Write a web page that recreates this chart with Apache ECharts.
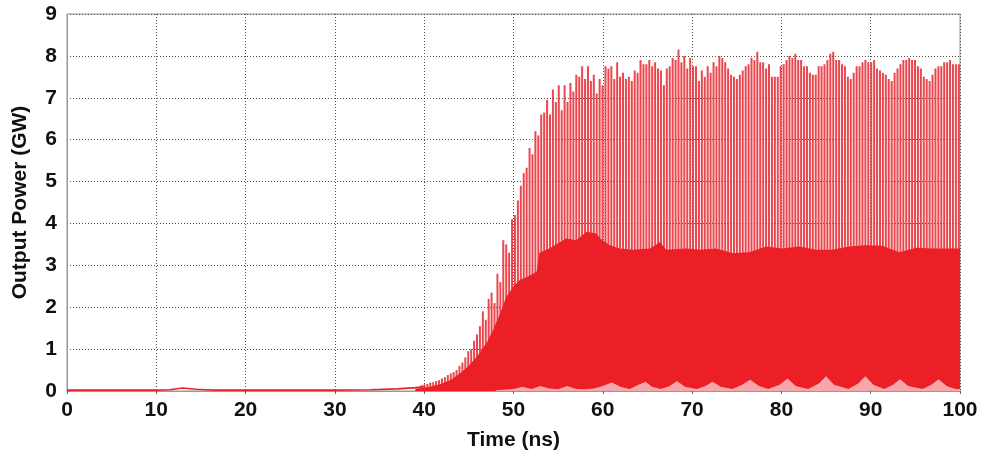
<!DOCTYPE html>
<html>
<head>
<meta charset="utf-8">
<script src="https://cdn.jsdelivr.net/npm/echarts@6/dist/echarts.min.js"></script>
<style>
  html, body { margin: 0; padding: 0; background: #fff; }
  #chart { width: 984px; height: 462px; }
</style>
</head>
<body>
<div id="chart"></div>
<script>
// x axis ticks (ns) and y axis ticks (GW)
var xTicks = [0, 10, 20, 30, 40, 50, 60, 70, 80, 90, 100];
var yTicks = [0, 1, 2, 3, 4, 5, 6, 7, 8, 9];

// quiet part before the build-up (time ns / power GW)
var baseT = [0, 10, 11.5, 12.5, 13, 13.5, 14.5, 15.5, 16.5, 30, 34, 37, 39, 40];
var baseV = [0.02, 0.02, 0.03, 0.06, 0.07, 0.06, 0.04, 0.03, 0.02, 0.02, 0.03, 0.05, 0.08, 0.1];

// spike peaks, one every spikeStep ns starting at spikeStart
var spikeStart = 39.7;
var spikeStep = 0.327;
var spikePeaks = [
  0.14, 0.16, 0.17, 0.2, 0.21, 0.24, 0.26, 0.3, 0.33, 0.38,
  0.42, 0.45, 0.5, 0.6, 0.68, 0.8, 0.95, 1.0, 1.2, 1.35,
  1.55, 1.9, 1.7, 2.2, 2.35, 2.1, 2.8, 2.6, 3.6, 3.5,
  3.3, 4.1, 4.2, 4.55, 4.9, 5.2, 5.33, 5.8, 5.65, 6.2,
  6.1,
  6.6, 6.65, 6.95, 6.6, 7.2, 6.9, 7.3, 6.7, 7.3, 6.9,
  7.35, 7.15, 7.55, 7.5, 7.75, 7.45, 7.75, 7.4, 7.55, 7.1,
  7.45, 7.3, 7.75, 7.7, 7.75, 7.45, 7.85, 7.5, 7.6, 7.45,
  7.5, 7.4, 7.65, 7.6, 7.9, 7.8, 7.8, 7.9, 7.75, 7.85,
  7.7, 7.65, 7.3, 7.7, 7.75, 7.95, 7.9, 8.15, 7.85, 8.0,
  7.7, 7.95, 7.75, 7.75, 7.4, 7.65, 7.5, 7.75, 7.6, 7.85,
  7.75, 8.0, 7.95, 7.85, 7.7, 7.55, 7.5, 7.45, 7.55, 7.65,
  7.75, 7.8, 7.95, 7.9, 8.1,
  7.85, 7.85, 7.7, 7.8, 7.5, 7.5, 7.5, 7.75, 7.8, 7.9,
  8.0, 7.95, 8.05, 7.9, 7.9, 7.75, 7.75, 7.6, 7.55, 7.55,
  7.75, 7.75, 7.8, 7.9, 8.05, 8.1, 7.9, 7.9, 7.8, 7.75,
  7.5, 7.45, 7.6, 7.75, 7.75, 7.85, 7.9, 7.85, 7.85, 7.9,
  7.7, 7.65, 7.6, 7.55, 7.45, 7.4, 7.6, 7.7, 7.8, 7.9,
  7.9, 7.95, 7.9, 7.9, 7.75, 7.7, 7.5, 7.45, 7.4, 7.55,
  7.7, 7.75, 7.75, 7.85, 7.85, 7.9, 7.8, 7.8, 7.8
];

// top of the dense (solid) band
var fillT = [39, 40, 41, 42, 43, 44, 45, 46, 47, 47.7, 48.5, 49.2, 50, 50.7, 51.5, 52.2, 52.6, 52.9, 54, 55.9,
  57.0, 58.2, 59.3, 59.7, 60.8, 61.9, 63.4, 65.3, 66.4, 67.1, 69.4, 70.8, 72.7, 74.6, 76.4, 78.3, 80.1, 82.0, 83.9, 85.7,
  87.6, 89.5, 91.3, 93.2, 95.1, 96.9, 99.5, 100];
var fillV = [0.06, 0.08, 0.12, 0.18, 0.27, 0.42, 0.6, 0.85, 1.15, 1.45, 1.85, 2.25, 2.5, 2.65, 2.72, 2.8, 2.85, 3.3, 3.4, 3.64,
  3.6, 3.8, 3.76, 3.64, 3.48, 3.4, 3.37, 3.4, 3.56, 3.37, 3.4, 3.37, 3.4, 3.29, 3.31, 3.45, 3.4, 3.45, 3.37, 3.37,
  3.45, 3.48, 3.47, 3.31, 3.42, 3.4, 3.4, 3.4];

// light troughs at the bottom of the band
var troughT = [48, 50, 51, 52, 53, 54, 55, 56, 57, 58, 59, 60, 61, 62, 63, 64, 64.8, 65.5, 66.5, 67.5,
  68.3, 69.2, 70.5, 71.5, 72.3, 73.2, 74.5, 75.5, 76.5, 77.5, 78.5, 79.8, 80.7, 81.6, 83, 84.2, 85, 85.9, 87.5, 88.6,
  89.4, 90.3, 91.5, 92.5, 93.3, 94.2, 95.8, 96.8, 97.6, 98.5, 99.5, 100];
var troughV = [0.02, 0.05, 0.1, 0.05, 0.12, 0.06, 0.04, 0.12, 0.05, 0.04, 0.06, 0.12, 0.2, 0.1, 0.05, 0.15, 0.22, 0.1, 0.05, 0.12,
  0.24, 0.1, 0.05, 0.12, 0.22, 0.1, 0.05, 0.14, 0.27, 0.12, 0.05, 0.15, 0.3, 0.12, 0.05, 0.18, 0.35, 0.15, 0.05, 0.18,
  0.35, 0.15, 0.05, 0.15, 0.28, 0.12, 0.05, 0.15, 0.28, 0.12, 0.05, 0.05];

function pairs(ts, vs) {
  return ts.map(function (t, i) { return [t, vs[i]]; });
}

var spikeData = spikePeaks.map(function (v, i) { return [spikeStart + i * spikeStep, v]; });

var labelFont = { color: '#111', fontSize: 21, fontWeight: 'bold', fontFamily: 'Liberation Sans, Arial, sans-serif' };
var gridLine = { show: true, lineStyle: { color: '#555', width: 1, type: [1, 2] } };

var myChart = echarts.init(document.getElementById('chart'));
var option = {
  animation: false,
  grid: { left: 67, right: 24, top: 14, bottom: 71, show: true, borderColor: '#999', borderWidth: 1 },
  xAxis: {
    type: 'value',
    min: xTicks[0], max: xTicks[xTicks.length - 1], interval: 10,
    name: 'Time (ns)', nameLocation: 'middle', nameGap: 39,
    nameTextStyle: labelFont,
    axisLine: { show: true, lineStyle: { color: '#999' } },
    axisTick: { show: true, length: 3, lineStyle: { color: '#666' } },
    axisLabel: Object.assign({ margin: 9 }, labelFont),
    splitLine: gridLine
  },
  yAxis: {
    type: 'value',
    min: yTicks[0], max: yTicks[yTicks.length - 1], interval: 1,
    name: 'Output Power (GW)', nameLocation: 'middle', nameGap: 36,
    nameTextStyle: labelFont,
    axisLine: { show: true, lineStyle: { color: '#999' } },
    axisTick: { show: false },
    axisLabel: Object.assign({ margin: 10 }, labelFont),
    splitLine: gridLine
  },
  series: [
    {
      name: 'spikes', type: 'bar', data: spikeData, barWidth: 2, z: 2,
      itemStyle: { color: 'rgba(230,30,40,0.82)' }
    },
    {
      name: 'band', type: 'line', data: pairs(fillT, fillV), symbol: 'none', z: 3,
      lineStyle: { width: 0 }, areaStyle: { color: '#ec1f26', opacity: 1 }
    },
    {
      name: 'troughs', type: 'line', data: pairs(troughT, troughV), symbol: 'none', z: 4,
      lineStyle: { width: 0 }, areaStyle: { color: '#f8d6d6', opacity: 0.75 }
    },
    {
      name: 'base', type: 'line', data: pairs(baseT, baseV), symbol: 'none', z: 5,
      lineStyle: { color: '#ec1f26', width: 1.6 }
    }
  ]
};
myChart.setOption(option);
</script>
</body>
</html>
